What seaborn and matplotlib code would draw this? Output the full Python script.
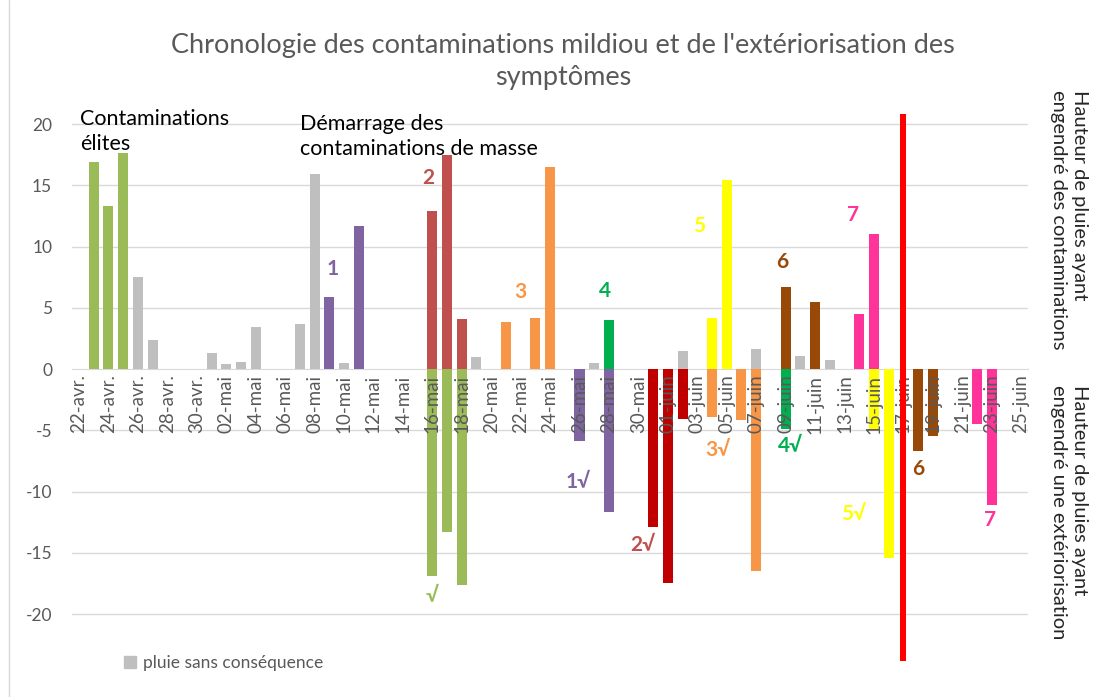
import matplotlib
matplotlib.use("Agg")
import matplotlib.pyplot as plt
from matplotlib.patches import Patch
from matplotlib.lines import Line2D
import seaborn as sns
import numpy as np
import pandas as pd

# axe des dates
annee = "2023-"
debut = pd.Timestamp(annee + "04-22")
fin = pd.Timestamp(annee + "06-25")
mois = {4: "avr.", 5: "mai", 6: "juin"}

# pluies sans conséquence (mm)
gris_dates = ["04-26", "04-27", "05-01", "05-02", "05-03", "05-04", "05-07", "05-08",
              "05-10", "05-19", "05-27", "06-02", "06-07", "06-10", "06-12"]
gris_mm = [7.5, 2.4, 1.3, 0.4, 0.6, 3.4, 3.7, 15.9, 0.5, 1.0, 0.5, 1.5, 1.6, 1.1, 0.7]

# pluies ayant engendré des contaminations (mm)
conta_dates = ["04-23", "04-24", "04-25", "05-09", "05-11", "05-16", "05-17", "05-18",
               "05-21", "05-23", "05-24", "05-28", "06-04", "06-05", "06-09", "06-11",
               "06-14", "06-15"]
conta_mm = [16.9, 13.3, 17.6, 5.9, 11.7, 12.9, 17.5, 4.1, 3.8, 4.2, 16.5, 4.0, 4.2, 15.4,
            6.7, 5.5, 4.5, 11.0]
conta_serie = ["élites"] * 3 + ["1"] * 2 + ["2"] * 3 + ["3"] * 3 + ["4"] + ["5"] * 2 \
    + ["6"] * 2 + ["7"] * 2

# extériorisation des symptômes (mm, vers le bas)
ext_dates = ["05-16", "05-17", "05-18", "05-26", "05-28", "05-31", "06-01", "06-02",
             "06-04", "06-06", "06-07", "06-09", "06-15", "06-16", "06-18", "06-19",
             "06-22", "06-23"]
ext_mm = [-16.9, -13.3, -17.6, -5.9, -11.7, -12.9, -17.5, -4.1, -3.9, -4.2, -16.5, -4.9,
          -4.9, -15.4, -6.7, -5.5, -4.5, -11.1]
ext_serie = ["élites"] * 3 + ["1"] * 2 + ["2"] * 3 + ["3"] * 3 + ["4"] + ["5"] * 2 \
    + ["6"] * 2 + ["7"] * 2

# repère du 17 juin
repere_dates = ["06-17", "06-17"]
repere_mm = [20.8, -23.8]

couleurs_conta = {"élites": "#9BBB59", "1": "#8064A2", "2": "#C0504D", "3": "#F79646",
                  "4": "#00B050", "5": "#FFFF00", "6": "#984807", "7": "#FF3399"}
couleurs_ext = dict(couleurs_conta, **{"2": "#C00000"})
gris = "#BFBFBF"
texte_gris = "#595959"


def jours(dates):
    return [(pd.Timestamp(annee + d) - debut).days for d in dates]


df = pd.concat([
    pd.DataFrame({"jour": jours(gris_dates), "mm": gris_mm, "groupe": "gris"}),
    pd.DataFrame({"jour": jours(conta_dates), "mm": conta_mm,
                  "groupe": ["c" + s for s in conta_serie]}),
    pd.DataFrame({"jour": jours(ext_dates), "mm": ext_mm,
                  "groupe": ["e" + s for s in ext_serie]}),
], ignore_index=True)
palette = {"gris": gris}
palette.update({"c" + k: v for k, v in couleurs_conta.items()})
palette.update({"e" + k: v for k, v in couleurs_ext.items()})

df_repere = pd.DataFrame({"jour": jours(repere_dates), "mm": repere_mm,
                          "groupe": ["haut", "bas"]})

sns.set_style("white")
plt.rcParams["font.family"] = ["Lato", "DejaVu Sans"]
plt.rcParams["axes.unicode_minus"] = False

fig = plt.figure(figsize=(11.01, 6.97), dpi=100)
ax = fig.add_axes([0.0651, 0.0312, 0.869, 0.826])
ax.set_axisbelow(False)

for v in range(-20, 25, 5):
    if v != 0:
        ax.axhline(v, color="#D9D9D9", lw=1, zorder=0)

sns.barplot(data=df, x="jour", y="mm", hue="groupe", palette=palette, dodge=False,
            native_scale=True, width=0.68, saturation=1, errorbar=None, legend=False,
            linewidth=0, ax=ax)
sns.barplot(data=df_repere, x="jour", y="mm", hue="groupe",
            palette={"haut": "#FF0000", "bas": "#FF0000"}, dodge=False,
            native_scale=True, width=0.4, saturation=1, errorbar=None, legend=False,
            linewidth=0, ax=ax)
for p in ax.patches[-2:]:
    p.set_zorder(3)

ax.set_xlim(-0.5, 64.5)
ax.set_ylim(-25, 22)
ax.set_xlabel("")
ax.set_ylabel("")

for s in ["top", "right", "left"]:
    ax.spines[s].set_visible(False)
ax.spines["bottom"].set_position(("data", 0))
ax.spines["bottom"].set_color("#D9D9D9")
ax.spines["bottom"].set_zorder(0.8)

dates_ticks = pd.date_range(debut, fin, freq="2D")
ax.set_xticks([(d - debut).days for d in dates_ticks])
ax.set_xticklabels([f"{d.day:02d}-{mois[d.month]}" for d in dates_ticks], rotation=90)
ax.set_xticks(np.arange(-0.5, 64, 2), minor=True)
ax.tick_params(axis="x", which="major", length=0, pad=4, labelsize=13.5, labelcolor=texte_gris)
ax.tick_params(axis="x", which="minor", length=5, width=1, color="#BFBFBF", direction="out")
ax.set_yticks(range(-20, 25, 5))
ax.tick_params(axis="y", length=0, pad=14, labelsize=12.5, labelcolor=texte_gris)

# étiquettes des séries
haut = [("1", 17.25, 8.2, "1"), ("2", 23.7, 15.6, "2"), ("3", 30.0, 6.3, "3"),
        ("4", 35.7, 6.4, "4"), ("5", 42.1, 11.7, "5"), ("6", 47.8, 8.7, "6"),
        ("7", 52.6, 12.6, "7")]
for txt, x, y, k in haut:
    ax.text(x, y, txt, color=couleurs_conta[k], fontsize=15, fontweight="bold",
            ha="center", va="center")
bas = [("√", 24.0, -18.5, "élites"), ("1√", 33.9, -9.2, "1"), ("2√", 38.3, -14.4, "2"),
       ("3√", 43.4, -6.6, "3"), ("4√", 48.3, -6.3, "4"), ("5√", 52.6, -11.8, "5"),
       ("6", 57.0, -8.2, "6"), ("7", 61.9, -12.3, "7")]
for txt, x, y, k in bas:
    ax.text(x, y, txt, color=couleurs_conta[k], fontsize=15, fontweight="bold",
            ha="center", va="center")

ax.text(0.06, 21.2, "Contaminations\nélites", fontsize=15.5, color="black",
        ha="left", va="top", linespacing=1.3)
ax.text(15.0, 20.8, "Démarrage des\ncontaminations de masse", fontsize=15.5,
        color="black", ha="left", va="top", linespacing=1.3)

fig.text(563 / 1101, 1 - 62 / 697,
         "Chronologie des contaminations mildiou et de l'extériorisation des\nsymptômes",
         ha="center", va="center", fontsize=19.5, color=texte_gris, linespacing=1.35)

fig.text(1069 / 1101, 1 - 90 / 697, "Hauteur de pluies ayant\nengendré des contaminations",
         rotation=270, ha="center", va="top", fontsize=14.5, multialignment="left",
         linespacing=1.3)
fig.text(1069 / 1101, 1 - 385 / 697, "Hauteur de pluies ayant\nengendré une extériorisation",
         rotation=270, ha="center", va="top", fontsize=14.5, multialignment="left",
         linespacing=1.3)

fig.legend(handles=[Patch(color=gris, label="pluie sans conséquence")],
           loc="center left", bbox_to_anchor=(108 / 1101, 1 - 663 / 697), frameon=False,
           handlelength=0.7, handleheight=0.7, handletextpad=0.4, fontsize=12.5,
           labelcolor=texte_gris)

fig.add_artist(Line2D([9 / 1101, 9 / 1101], [0, 1], color="#D9D9D9", lw=1,
                      transform=fig.transFigure))

fig.savefig("out.png", dpi=100)
